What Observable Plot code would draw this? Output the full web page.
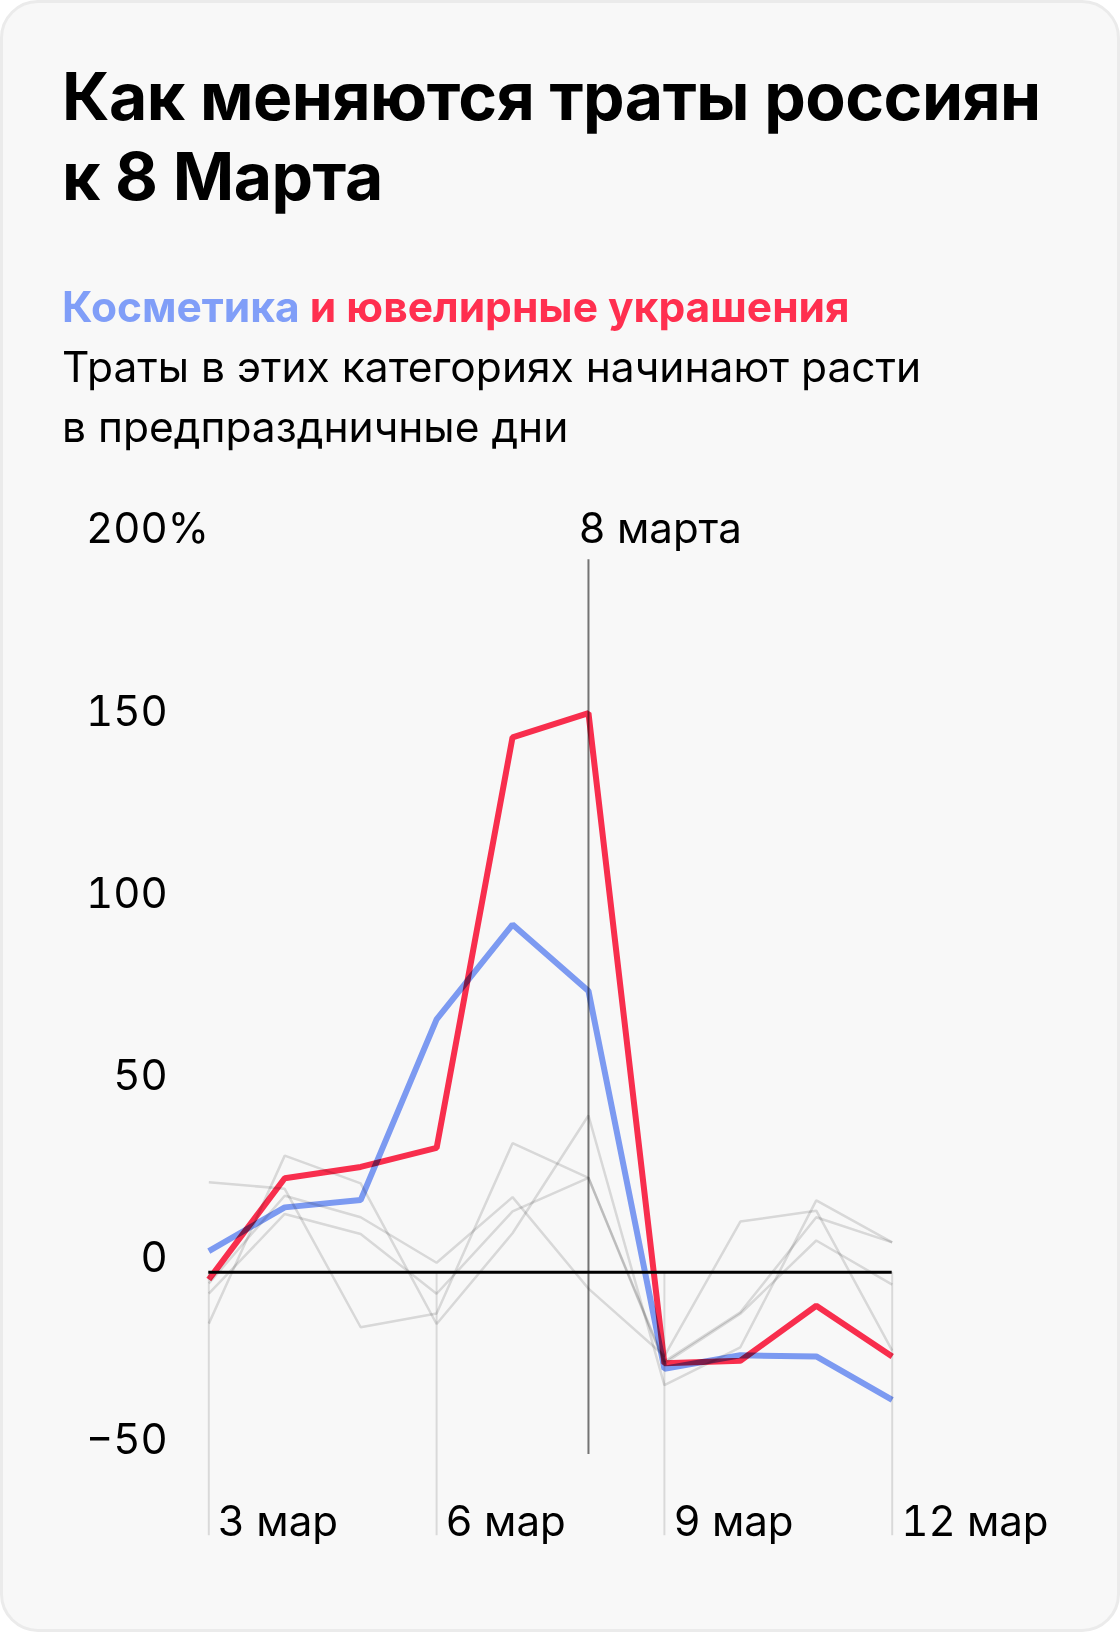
<!DOCTYPE html>
<html>
<head>
<meta charset="utf-8">
<script src="https://cdn.jsdelivr.net/npm/d3@7"></script>
<script src="https://cdn.jsdelivr.net/npm/@observablehq/plot@0.6"></script>
<style>
  html, body { margin: 0; padding: 0; background: #ffffff; }
  body { width: 1120px; height: 1632px; position: relative; overflow: hidden; font-family: Inter, "Noto Sans", sans-serif; }
  #card { position: absolute; left: 0; top: 0; width: 1120px; height: 1632px; box-sizing: border-box;
          border: 3px solid #ebebeb; border-radius: 38px; background: #f8f8f8; }
  #title { position: absolute; left: 62px; top: 56px; margin: 0; font: 700 66px/80px Inter, sans-serif; color: #000; letter-spacing: -0.5px; }
  #sub { position: absolute; left: 62px; top: 277px; margin: 0; font: 700 42.5px/60px Inter, sans-serif; }
  #body { position: absolute; left: 62px; top: 337px; margin: 0; font: 400 42.5px/60px Inter, sans-serif; color: #000; }
  #chart { position: absolute; left: 0; top: 470px; }
  #chart svg text { font-variant-numeric: tabular-nums; }
</style>
</head>
<body>
<div id="card"></div>
<h1 id="title">Как меняются траты россиян<br>к 8 Марта</h1>
<div id="sub"><span style="color:#809ef8">Косметика</span> <span style="color:#ff2f4f">и ювелирные украшения</span></div>
<div id="body">Траты в этих категориях начинают расти<br>в предпраздничные дни</div>
<div id="chart"></div>
<script>
// Days of March
const days = [3, 4, 5, 6, 7, 8, 9, 10, 11, 12];
// Cosmetics (blue), % change
const cosmetics = [5.8, 17.8, 19.8, 69.4, 95.4, 77.2, -26.5, -22.8, -23.1, -35.0];
// Jewelry (red), % change
const jewelry = [-2.0, 25.8, 28.9, 34.1, 146.8, 153.4, -25.0, -24.3, -9.2, -23.1];
// Other categories (gray)
const other1 = [24.7, 22.9, -15.1, -11.3, 35.4, 25.9, -24.5, -11.0, 15.1, 8.2];
const other2 = [-14.1, 32.0, 24.4, -14.2, 10.7, 43.0, -31.0, -20.6, 19.7, 8.2];
const other3 = [-3.1, 21.0, 15.1, 2.6, 20.6, -4.5, -23.0, 13.9, 16.9, -21.5];
const other4 = [-5.9, 16.0, 10.5, -5.9, 16.7, 25.9, -25.0, -11.4, 8.7, -3.4];
// Ticks
const yTicks = [-50, 0, 50, 100, 150, 200];
const yTopSuffix = "%";
const xTicks = [3, 6, 9, 12];
const xTickSuffix = " мар";
const holiday = 8;
const holidayLabel = "8 марта";

const others = [other1, other2, other3, other4];
const grayRows = others.flatMap((s, k) => s.map((v, i) => ({series: "o" + k, day: days[i], value: v})));
const blueRows = cosmetics.map((v, i) => ({day: days[i], value: v}));
const redRows = jewelry.map((v, i) => ({day: days[i], value: v}));

const yMin = -72.3, yMax = 200;
const fmt = d => d < 0 ? "\u2212" + Math.abs(d) : String(d);

const plot = Plot.plot({
  width: 1120,
  height: 1110,
  marginTop: 72.9,
  marginBottom: 44.8,
  marginLeft: 208.3,
  marginRight: 228.3,
  style: {background: "transparent", fontFamily: "Inter, sans-serif", fontSize: "42px", color: "#000", overflow: "visible"},
  x: {domain: [days[0], days[days.length - 1]], axis: null},
  y: {domain: [yMin, yMax], axis: null},
  marks: [
    Plot.ruleX(xTicks, {x: d => d, y1: 0, y2: yMin, stroke: "#000", strokeOpacity: 0.12, strokeWidth: 2}),
    Plot.line(grayRows, {x: "day", y: "value", z: "series", stroke: "#000", strokeOpacity: 0.13, strokeWidth: 2.5, strokeLinejoin: "miter", strokeLinecap: "butt"}),
    Plot.ruleY([0], {x1: days[0], x2: days[days.length - 1], stroke: "#000", strokeWidth: 3}),
    Plot.line(blueRows, {x: "day", y: "value", stroke: "#809ef8", strokeWidth: 6, strokeLinejoin: "miter", strokeLinecap: "butt", mixBlendMode: "multiply"}),
    Plot.line(redRows, {x: "day", y: "value", stroke: "#ff2f4f", strokeWidth: 6, strokeLinejoin: "miter", strokeLinecap: "butt", mixBlendMode: "multiply"}),
    Plot.ruleX([holiday], {x: d => d, y1: -50, y2: 195.5, stroke: "#777", strokeWidth: 2, mixBlendMode: "multiply"}),
    // y tick labels
    Plot.text(yTicks, {x: days[0], y: d => d, text: fmt, textAnchor: "end", lineAnchor: "bottom", dx: -41, fill: "#000"}),
    Plot.text([yTicks[yTicks.length - 1]], {x: days[0], y: d => d, text: () => yTopSuffix, textAnchor: "start", lineAnchor: "bottom", dx: -41, fill: "#000"}),
    // x tick labels
    Plot.text(xTicks, {x: d => d, frameAnchor: "bottom", text: d => d + xTickSuffix, textAnchor: "start", lineAnchor: "bottom", dx: 9, fill: "#000"}),
    // holiday label
    Plot.text([holiday], {x: d => d, y: yMax, text: () => holidayLabel, textAnchor: "start", lineAnchor: "bottom", dx: -10, fill: "#000"})
  ]
});
document.getElementById("chart").appendChild(plot);
</script>
</body>
</html>
